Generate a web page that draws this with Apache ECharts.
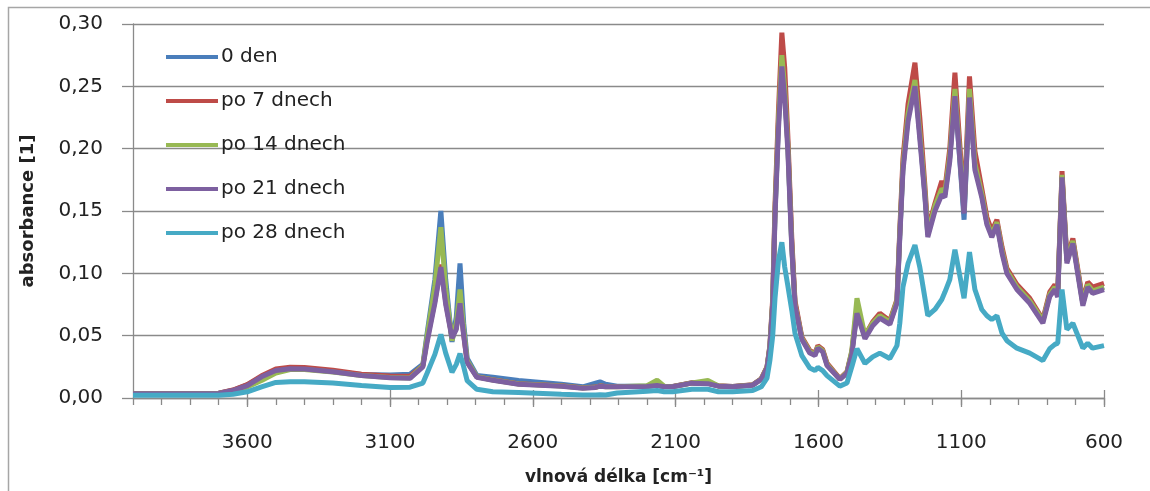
<!DOCTYPE html>
<html lang="cs">
  <head>
    <meta charset="UTF-8" />
    <title>FTIR spektra</title>
    <script src="https://cdn.jsdelivr.net/npm/echarts@6/dist/echarts.min.js"></script>
    <style>
      html, body { margin: 0; padding: 0; background: #fff; }
      #main { width: 1150px; height: 491px; }
    </style>
  </head>
  <body>
    <div id="main"></div>
    <script>
      // vlnočty (cm-1), společné pro všechny série
      const wn = [
        4000, 3800, 3700, 3650, 3600, 3550, 3500, 3450, 3400, 3300, 3200, 3100,
        3030, 2985, 2970, 2943, 2922, 2905, 2883, 2868, 2855, 2842, 2830, 2796,
        2740, 2650, 2500, 2425, 2380, 2365, 2345, 2305, 2200, 2165, 2140, 2110,
        2043, 1987, 1950, 1900, 1830, 1800, 1780, 1770, 1760, 1752, 1740, 1728,
        1718, 1707, 1693, 1682, 1658, 1630, 1612, 1602, 1585, 1570, 1525, 1500,
        1483, 1465, 1437, 1410, 1385, 1350, 1325, 1315, 1304, 1286, 1262, 1245,
        1227, 1217, 1192, 1168, 1157, 1140, 1122, 1090, 1071, 1052, 1028, 1010,
        993, 975, 957, 940, 905, 860, 814, 790, 772, 762, 747, 730, 709, 674,
        657, 640, 600
      ];

      const den0 = [
        0.0036, 0.0036, 0.0038, 0.0062, 0.0105, 0.0172, 0.0222, 0.0237, 0.0234, 0.0213, 0.0188, 0.0185,
        0.019, 0.027, 0.052, 0.095, 0.150, 0.095, 0.045, 0.065, 0.108, 0.060, 0.032, 0.018,
        0.0166, 0.014, 0.011, 0.009, 0.012, 0.013, 0.011, 0.0095, 0.0095, 0.0102, 0.0092, 0.0092,
        0.0121, 0.0117, 0.0097, 0.0092, 0.0105, 0.0152, 0.0245, 0.041, 0.077, 0.148, 0.220, 0.272,
        0.248, 0.203, 0.122, 0.076, 0.048, 0.037, 0.035, 0.041, 0.038, 0.027, 0.0152, 0.0202,
        0.036, 0.070, 0.049, 0.059, 0.065, 0.060, 0.077, 0.131, 0.185, 0.226, 0.255, 0.212,
        0.163, 0.131, 0.152, 0.165, 0.163, 0.193, 0.245, 0.143, 0.245, 0.186, 0.163, 0.141,
        0.131, 0.141, 0.118, 0.102, 0.089, 0.078, 0.062, 0.083, 0.089, 0.083, 0.178, 0.110, 0.126, 0.076,
        0.091, 0.086, 0.089
      ];

      const po7 = [
        0.0037, 0.0037, 0.0039, 0.0064, 0.0108, 0.0178, 0.0232, 0.0246, 0.0245, 0.0222, 0.019, 0.0177,
        0.0175, 0.026, 0.047, 0.078, 0.107, 0.077, 0.049, 0.056, 0.078, 0.051, 0.029, 0.017,
        0.0146, 0.0115, 0.0098, 0.0082, 0.0088, 0.0098, 0.0093, 0.0093, 0.0095, 0.0104, 0.0093, 0.0093,
        0.0122, 0.0118, 0.0098, 0.0093, 0.0106, 0.0155, 0.025, 0.042, 0.080, 0.155, 0.230, 0.293,
        0.265, 0.210, 0.127, 0.078, 0.049, 0.038, 0.036, 0.042, 0.039, 0.028, 0.0155, 0.021,
        0.037, 0.072, 0.050, 0.061, 0.068, 0.062, 0.079, 0.135, 0.192, 0.236, 0.269, 0.225,
        0.170, 0.135, 0.156, 0.174, 0.168, 0.200, 0.261, 0.153, 0.258, 0.198, 0.168, 0.145,
        0.134, 0.143, 0.121, 0.104, 0.091, 0.080, 0.063, 0.085, 0.091, 0.085, 0.182, 0.112, 0.128, 0.078,
        0.093, 0.089, 0.092
      ];

      const po14 = [
        0.0035, 0.0035, 0.0036, 0.0055, 0.0088, 0.014, 0.020, 0.0228, 0.0228, 0.0208, 0.018, 0.0165,
        0.016, 0.026, 0.050, 0.090, 0.137, 0.088, 0.046, 0.060, 0.087, 0.055, 0.030, 0.017,
        0.0144, 0.0112, 0.0096, 0.008, 0.0086, 0.0096, 0.0091, 0.0091, 0.0098, 0.0142, 0.0095, 0.0091,
        0.012, 0.014, 0.0097, 0.0091, 0.0104, 0.0152, 0.0243, 0.041, 0.077, 0.149, 0.222, 0.275,
        0.248, 0.202, 0.121, 0.075, 0.048, 0.037, 0.035, 0.041, 0.038, 0.027, 0.0152, 0.0205,
        0.038, 0.080, 0.050, 0.060, 0.066, 0.061, 0.078, 0.132, 0.186, 0.228, 0.255, 0.213,
        0.165, 0.132, 0.154, 0.168, 0.165, 0.194, 0.248, 0.150, 0.248, 0.188, 0.164, 0.141,
        0.131, 0.141, 0.118, 0.102, 0.089, 0.078, 0.062, 0.083, 0.089, 0.083, 0.179, 0.110, 0.126, 0.076,
        0.091, 0.086, 0.089
      ];

      const po21 = [
        0.0035, 0.0035, 0.0037, 0.006, 0.010, 0.017, 0.022, 0.0235, 0.0232, 0.021, 0.018, 0.0162,
        0.0158, 0.025, 0.045, 0.076, 0.105, 0.075, 0.048, 0.055, 0.076, 0.050, 0.0285, 0.0166,
        0.0142, 0.011, 0.0095, 0.0079, 0.0085, 0.0095, 0.009, 0.009, 0.0092, 0.010, 0.009, 0.009,
        0.0119, 0.0115, 0.0095, 0.009, 0.0103, 0.015, 0.024, 0.040, 0.075, 0.145, 0.215, 0.266,
        0.240, 0.198, 0.119, 0.074, 0.047, 0.036, 0.034, 0.040, 0.037, 0.026, 0.015, 0.020,
        0.035, 0.068, 0.0475, 0.058, 0.064, 0.059, 0.076, 0.129, 0.182, 0.222, 0.250, 0.208,
        0.161, 0.129, 0.150, 0.163, 0.161, 0.190, 0.242, 0.148, 0.241, 0.183, 0.161, 0.139,
        0.129, 0.139, 0.116, 0.100, 0.087, 0.076, 0.060, 0.0815, 0.087, 0.081, 0.177, 0.108, 0.124, 0.074,
        0.089, 0.084, 0.087
      ];

      const po28 = [
        0.0022, 0.0022, 0.0022, 0.003, 0.005, 0.009, 0.0125, 0.013, 0.013, 0.012, 0.010, 0.0085,
        0.0087, 0.012, 0.020, 0.035, 0.051, 0.036, 0.0206, 0.027, 0.0356, 0.025, 0.014, 0.007,
        0.005, 0.0045, 0.003, 0.0024, 0.0024, 0.0026, 0.0024, 0.004, 0.0055, 0.006, 0.005, 0.005,
        0.007, 0.007, 0.005, 0.005, 0.006, 0.009, 0.016, 0.030, 0.050, 0.080, 0.110, 0.125,
        0.105, 0.090, 0.070, 0.052, 0.034, 0.024, 0.022, 0.0245, 0.022, 0.018, 0.0095, 0.012,
        0.025, 0.0396, 0.0277, 0.033, 0.036, 0.0317, 0.042, 0.060, 0.089, 0.108, 0.1227, 0.105,
        0.080, 0.066, 0.071, 0.079, 0.085, 0.095, 0.119, 0.080, 0.117, 0.087, 0.071, 0.066,
        0.063, 0.066, 0.052, 0.046, 0.040, 0.036, 0.030, 0.0396, 0.043, 0.044, 0.087, 0.055, 0.060, 0.040,
        0.044, 0.040, 0.042
      ];

      const seriesNames = ["0 den", "po 7 dnech", "po 14 dnech", "po 21 dnech", "po 28 dnech"];
      const seriesValues = [den0, po7, po14, po21, po28];
      const colors = ["#4a7ebb", "#be4b48", "#98b954", "#7d60a0", "#46aac5"];
      const tickLabels = [3600, 3100, 2600, 2100, 1600, 1100, 600];

      const font = "DejaVu Sans";
      const gridColor = "#8a8a8a";

      const chart = echarts.init(document.getElementById("main"));

      const xBase = {
        type: "value",
        inverse: true,
        min: 600,
        max: 4000,
        position: "bottom",
        splitLine: { show: false },
      };

      const option = {
        animation: false,
        textStyle: { fontFamily: font },
        grid: { left: 133, right: 46, top: 24, bottom: 88 },
        graphic: [
          {
            type: "rect",
            shape: { x: 8.5, y: 7.5, width: 1300, height: 700 },
            style: { fill: null, stroke: "#a6a6a6", lineWidth: 1.5 },
            silent: true,
          },
        ],
        legend: {
          orient: "vertical",
          left: 161,
          top: 42,
          itemGap: 24,
          itemWidth: 52,
          itemHeight: 4,
          icon: "rect",
          data: seriesNames,
          textStyle: { fontFamily: font, fontSize: 20, color: "#222", padding: [0, 0, 0, -2] },
        },
        xAxis: [
          {
            ...xBase,
            interval: 100,
            name: "vlnová délka [cm⁻¹]",
            nameLocation: "middle",
            nameGap: 71,
            nameTextStyle: { fontFamily: font, fontSize: 17, fontWeight: "bold", color: "#222" },
            axisLine: { show: true, lineStyle: { color: gridColor, width: 1.3 } },
            axisTick: { show: true, length: 7, lineStyle: { color: gridColor, width: 1.3 } },
            axisLabel: { show: false },
          },
          {
            ...xBase,
            axisLine: { show: false },
            axisTick: {
              show: true,
              length: 9,
              customValues: tickLabels,
              lineStyle: { color: gridColor, width: 1.3 },
            },
            axisLabel: {
              show: true,
              customValues: tickLabels,
              margin: 35,
              fontFamily: font,
              fontSize: 20,
              color: "#222",
              formatter: (v) => String(v),
            },
          },
          {
            ...xBase,
            axisLine: { show: false },
            axisTick: {
              show: true,
              inside: true,
              length: 8,
              customValues: tickLabels,
              lineStyle: { color: gridColor, width: 1.3 },
            },
            axisLabel: { show: false },
          },
        ],
        yAxis: {
          type: "value",
          min: 0,
          max: 0.3,
          interval: 0.05,
          name: "absorbance [1]",
          nameLocation: "middle",
          nameGap: 96,
          nameTextStyle: { fontFamily: font, fontSize: 18, fontWeight: "bold", color: "#222" },
          axisLine: { show: true, lineStyle: { color: gridColor, width: 1.3 } },
          axisTick: { show: true, length: 11, lineStyle: { color: gridColor, width: 1.3 } },
          splitLine: { show: true, lineStyle: { color: gridColor, width: 1.3 } },
          axisLabel: {
            margin: 30,
            fontFamily: font,
            fontSize: 20,
            color: "#222",
            formatter: (v) => v.toFixed(2).replace(".", ","),
          },
        },
        series: seriesNames.map((name, k) => ({
          name: name,
          type: "line",
          xAxisIndex: 0,
          showSymbol: false,
          symbol: "none",
          color: colors[k],
          lineStyle: { width: 5, color: colors[k] },
          data: wn.map((w, i) => [w, seriesValues[k][i]]),
        })),
      };

      chart.setOption(option);
    </script>
  </body>
</html>
